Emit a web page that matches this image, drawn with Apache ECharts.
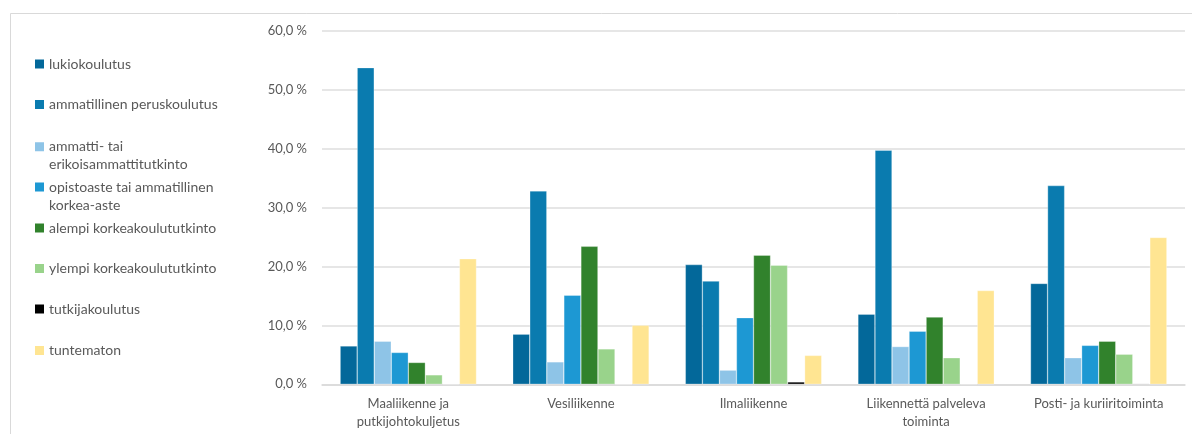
<!DOCTYPE html>
<html>
<head>
<meta charset="utf-8">
<script src="https://cdn.jsdelivr.net/npm/echarts@6/dist/echarts.min.js"></script>
<style>
html,body{margin:0;padding:0;background:#fff;}
#chart{width:1192px;height:434px;}
</style>
</head>
<body>
<div id="chart"></div>
<script>
const categories = ['Maaliikenne ja\nputkijohtokuljetus', 'Vesiliikenne', 'Ilmaliikenne', 'Liikennettä palveleva\ntoiminta', 'Posti- ja kuriiritoiminta'];
const seriesNames = ['lukiokoulutus', 'ammatillinen peruskoulutus', 'ammatti- tai erikoisammattitutkinto', 'opistoaste tai ammatillinen korkea-aste', 'alempi korkeakoulututkinto', 'ylempi korkeakoulututkinto', 'tutkijakoulutus', 'tuntematon'];
const legendLabels = ['lukiokoulutus', 'ammatillinen peruskoulutus', 'ammatti- tai\nerikoisammattitutkinto', 'opistoaste tai ammatillinen\nkorkea-aste', 'alempi korkeakoulututkinto', 'ylempi korkeakoulututkinto', 'tutkijakoulutus', 'tuntematon'];
const lukiokoulutus = [6.5, 8.5, 20.3, 11.9, 17.1];
const ammatillinenPerus = [53.7, 32.8, 17.5, 39.7, 33.7];
const ammattiTaiErikois = [7.3, 3.8, 2.4, 6.4, 4.5];
const opistoaste = [5.4, 15.1, 11.3, 9.0, 6.6];
const alempiKK = [3.7, 23.4, 21.9, 11.4, 7.3];
const ylempiKK = [1.6, 6.0, 20.2, 4.5, 5.1];
const tutkijakoulutus = [0.05, 0, 0.4, 0.05, 0.1];
const tuntematon = [21.3, 10.0, 4.9, 15.9, 24.9];
const yTicks = [0, 10, 20, 30, 40, 50, 60];

const values = [lukiokoulutus, ammatillinenPerus, ammattiTaiErikois, opistoaste, alempiKK, ylempiKK, tutkijakoulutus, tuntematon];
const colors = ['#03689A', '#0A7BAF', '#8EC4E7', '#1D98D3', '#31822C', '#99D38B', '#000000', '#FFE592'];
const legendCenters = [64, 104.5, 146.7, 187, 228, 268.5, 309, 350.5];

const txt = '#595959';
const font = 'Lato';

const legends = seriesNames.map((n, i) => {
  const twoLine = legendLabels[i].indexOf('\n') >= 0;
  return {
    orient: 'vertical',
    left: 35,
    top: legendCenters[i] - 9,
    padding: 0,
    data: [n],
    selectedMode: false,
    itemGap: 0,
    itemWidth: 9,
    itemHeight: twoLine ? 27 : 9,
    icon: twoLine ? 'path://M0,0H10V10H0Z M0,30H10' : 'rect',
    itemStyle: { borderWidth: 0 },
    formatter: () => legendLabels[i],
    textStyle: { color: txt, fontFamily: font, fontSize: 14, lineHeight: 18 }
  };
});

const chart = echarts.init(document.getElementById('chart'), null, { renderer: 'canvas' });
chart.setOption({
  animation: false,
  backgroundColor: '#fff',
  graphic: [{
    type: 'rect',
    shape: { x: 10.5, y: 13.5, width: 1300, height: 600 },
    style: { fill: 'none', stroke: '#d9d9d9', lineWidth: 1 },
    silent: true, z: -10
  }],
  legend: legends,
  grid: { left: 322, right: 7, top: 30.5, bottom: 49.7, containLabel: false },
  xAxis: {
    type: 'category',
    data: categories,
    axisLine: { show: true, lineStyle: { color: '#d9d9d9', width: 1.5 } },
    axisTick: { show: false },
    axisLabel: { color: txt, fontFamily: font, fontSize: 13, lineHeight: 18, margin: 11, interval: 0 }
  },
  yAxis: {
    type: 'value',
    min: yTicks[0],
    max: yTicks[yTicks.length - 1],
    interval: 10,
    axisLine: { show: false },
    axisTick: { show: false },
    splitLine: { lineStyle: { color: '#dedede', width: 1.5 } },
    axisLabel: {
      color: txt, fontFamily: font, fontSize: 13, margin: 15,
      formatter: v => v.toFixed(1).replace('.', ',') + ' %'
    }
  },
  series: seriesNames.map((n, i) => ({
    name: n,
    type: 'bar',
    data: values[i],
    barGap: 0,
    barCategoryGap: '21%',
    itemStyle: { color: colors[i], borderColor: 'rgba(255,255,255,0.6)', borderWidth: 0.5 }
  }))
});
</script>
</body>
</html>
